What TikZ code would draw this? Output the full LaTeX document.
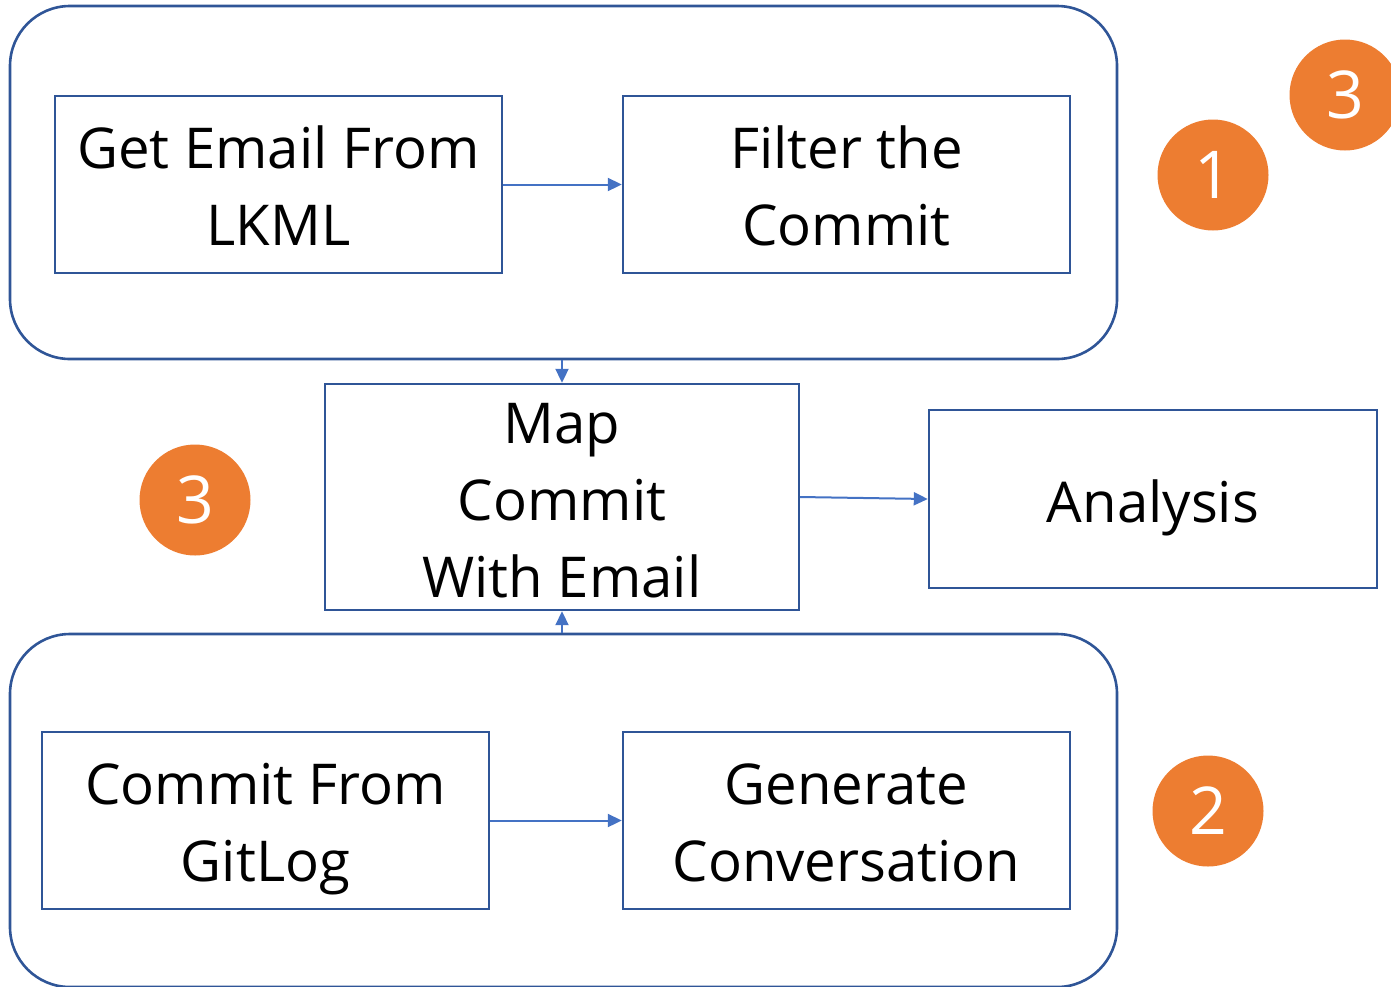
\documentclass[tikz,border=0pt]{standalone}
\usepackage{fontspec}
\setmainfont{Open Sans}
\usetikzlibrary{arrows.meta}
\definecolor{boxblue}{HTML}{2F5597}
\definecolor{linkblue}{HTML}{4472C4}
\definecolor{badge}{HTML}{ED7D31}
% centred lines whose first baseline sits #1 below the node centre
\newcommand\steplines[2]{\raisebox{-#1}[0pt][0pt]{\begin{tabular}[t]{@{}c@{}}#2\end{tabular}}}
\tikzset{
  group/.style={draw=boxblue, line width=2.6pt, rounded corners=60pt, minimum width=1107pt, minimum height=353pt, inner sep=0pt},
  stepbox/.style={draw=boxblue, line width=2.4pt, minimum width=447pt, minimum height=177pt, inner sep=0pt,
    font=\fontsize{56.3}{77}\selectfont},
  link/.style={draw=linkblue, line width=2pt, -{Triangle[length=14pt,width=13pt]}},
  numbadge/.style={circle, fill=badge, minimum size=111pt, inner sep=0pt, text=white,
    font=\fontsize{66}{66}\selectfont}
}
\begin{document}
\begin{tikzpicture}[x=1pt, y=-1pt]
  \useasboundingbox (0,0) rectangle (1391,986);
  \begin{scope}
    \clip (0,0) rectangle (1391,986);
    % groups
    \node[group] (top) at (563.5,182.5) {};
    \node[group] (bottom) at (563.5,810.5) {};
    % steps
    \node[stepbox] (lkml) at (278.5,184.5) {\steplines{-16.5pt}{Get Email From\\LKML}};
    \node[stepbox] (filter) at (846.5,184.5) {\steplines{-16.5pt}{Filter the\\Commit}};
    \node[stepbox, minimum width=474pt, minimum height=226pt] (map) at (562,497) {\steplines{-54pt}{Map\\Commit\\With Email}};
    \node[stepbox, minimum width=448pt, minimum height=178pt] (analysis) at (1153,499) {\steplines{23pt}{Analysis}};
    \node[stepbox] (gitlog) at (265.5,820.5) {\steplines{-16.5pt}{Commit From\\GitLog}};
    \node[stepbox] (conv) at (846.5,820.5) {\steplines{-16.5pt}{Generate\\Conversation}};
    % connectors
    \draw[link] (lkml.east) -- (filter.west);
    \draw[link] (gitlog.east) -- (conv.west);
    \draw[link] (top.south -| map.north) -- (map.north);
    \draw[link] (bottom.north -| map.south) -- (map.south);
    \draw[link] (map.east) -- (analysis.west);
    % numbered badges
    \node[numbadge] (b1) at (1213,175) {1};
    \node[numbadge] (b3a) at (1345,95) {3};
    \node[numbadge] (b3b) at (195,500) {3};
    \node[numbadge] (b2) at (1208,811) {2};
  \end{scope}
\end{tikzpicture}
\end{document}
